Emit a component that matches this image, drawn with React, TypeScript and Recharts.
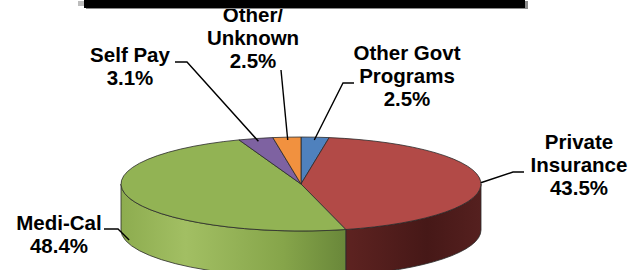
import React from 'react';
import { PieChart, Pie, Cell } from 'recharts';

// ---- data ----
const categories = ['Other Govt Programs', 'Private Insurance', 'Medi-Cal', 'Self Pay', 'Other/ Unknown'];
const shares = [2.5, 43.5, 48.4, 3.1, 2.5];
const labelText = [
  ['Other Govt', 'Programs'],
  ['Private', 'Insurance'],
  ['Medi-Cal'],
  ['Self Pay'],
  ['Other/', 'Unknown'],
];

// ---- styles ----
const topColors = ['#4f81bd', '#b24a47', '#92b354', '#7e62a1', '#f1913f'];
const sideStops: [number, string][][] = [
  [[0, '#2f5a8a'], [1, '#3b6aa0']],
  [[0, '#5e2321'], [0.62, '#5e2321'], [0.85, '#461817'], [1, '#55201f']],
  [[0, '#8dac4f'], [0.18, '#a2bf63'], [0.45, '#86a54a'], [0.62, '#6a883a'], [1, '#6a883a']],
  [[0, '#5a4478'], [1, '#5a4478']],
  [[0, '#c0702c'], [1, '#c0702c']],
];
// label layout: anchor radius factor, drop (px), leader path points, text centre x, first baseline y
const labelLayout = [
  { r: 0.94, drop: 0, path: [[343, 83], [354, 83]], tx: 407, ty: 60 },
  { r: 1.0, drop: 1, path: [[513, 172], [524, 172]], tx: 579, ty: 149 },
  { r: 1.0, drop: 42, path: [[118, 229], [104, 229]], tx: 59, ty: 230 },
  { r: 0.94, drop: 0, path: [[187, 62], [175, 62]], tx: 130, ty: 62 },
  { r: 0.94, drop: 0, path: [[281, 70]], tx: 253, ty: 22 },
];

const data = categories.map((name, i) => ({ name, value: shares[i] }));

const TILT = 0.261;
const DEPTH = 46;
const LINE_H = 23;
const FONT = '"Liberation Sans", Arial, sans-serif';

function ept(cx: number, cy: number, rx: number, ry: number, a: number): [number, number] {
  const r = (a * Math.PI) / 180;
  return [cx + rx * Math.cos(r), cy - ry * Math.sin(r)];
}

function SliceShape(props: any) {
  const { cx, cy, outerRadius, startAngle, endAngle, fill } = props;
  const name = props.name ?? props.payload?.name;
  const idx = Math.max(0, categories.indexOf(name));
  const rx = outerRadius;
  const ry = outerRadius * TILT;
  const s = Math.max(startAngle, endAngle);
  const e = Math.min(startAngle, endAngle);
  const p1 = ept(cx, cy, rx, ry, s);
  const p2 = ept(cx, cy, rx, ry, e);
  const large = s - e > 180 ? 1 : 0;
  const top = `M${cx},${cy} L${p1[0]},${p1[1]} A${rx},${ry} 0 ${large} 1 ${p2[0]},${p2[1]} Z`;

  // front side wall: portion of [e, s] within [-180, 0]
  let side: string | null = null;
  const a1 = Math.min(s, 0);
  const a2 = Math.max(e, -180);
  if (a1 > a2) {
    const q1 = ept(cx, cy, rx, ry, a1);
    const q2 = ept(cx, cy, rx, ry, a2);
    side =
      `M${q1[0]},${q1[1]} A${rx},${ry} 0 0 1 ${q2[0]},${q2[1]} ` +
      `L${q2[0]},${q2[1] + DEPTH} A${rx},${ry} 0 0 0 ${q1[0]},${q1[1] + DEPTH} Z`;
  }
  const gid = `side-grad-${idx}`;
  return (
    <g>
      <defs>
        <linearGradient id={gid} gradientUnits="userSpaceOnUse" x1={cx - rx} y1={0} x2={cx + rx} y2={0}>
          {sideStops[idx].map(([o, c], k) => (
            <stop key={k} offset={o} stopColor={c} />
          ))}
        </linearGradient>
      </defs>
      {side && <path d={side} fill={`url(#${gid})`} stroke="#2a2a2a" strokeWidth={0.8} strokeLinejoin="round" />}
      <path d={top} fill={fill} stroke="#2a2a2a" strokeWidth={0.8} strokeLinejoin="round" />
    </g>
  );
}

function renderLabel(p: any) {
  const { cx, cy, midAngle, outerRadius } = p;
  const name = p.name ?? p.payload?.name;
  const idx = p.index ?? categories.indexOf(name);
  const L = labelLayout[idx];
  const rx = outerRadius;
  const ry = outerRadius * TILT;
  const [ax, ay0] = ept(cx, cy, rx * L.r, ry * L.r, midAngle);
  const ay = ay0 + L.drop;
  const pts = [[ax, ay], ...L.path];
  const d = pts.map((pt, k) => `${k === 0 ? 'M' : 'L'}${pt[0]},${pt[1]}`).join(' ');
  const lines = [...labelText[idx], `${shares[idx].toFixed(1)}%`];
  return (
    <g key={`lbl-${idx}`}>
      <path d={d} fill="none" stroke="#000" strokeWidth={1.4} />
      <text
        x={L.tx}
        y={L.ty}
        textAnchor="middle"
        fontFamily={FONT}
        fontWeight="bold"
        fontSize={20.5}
        fill="#000"
      >
        {lines.map((t, k) => (
          <tspan key={k} x={L.tx} y={L.ty + k * LINE_H}>
            {t}
          </tspan>
        ))}
      </text>
    </g>
  );
}

export default function App() {
  return (
    <div style={{ position: 'absolute', left: 0, top: 0, width: 634, height: 270, background: '#fff', overflow: 'hidden' }}>
      <PieChart width={634} height={270} margin={{ top: 0, right: 0, bottom: 0, left: 0 }}>
        <Pie
          data={data}
          dataKey="value"
          nameKey="name"
          cx={301}
          cy={184}
          outerRadius={180}
          startAngle={90}
          endAngle={-270}
          isAnimationActive={false}
          shape={SliceShape}
          inactiveShape={SliceShape}
          activeShape={SliceShape}
          label={renderLabel}
          labelLine={false}
          stroke="none"
        >
          {data.map((d, i) => (
            <Cell key={d.name} fill={topColors[i]} />
          ))}
        </Pie>
      </PieChart>
      <div style={{ position: 'absolute', left: 78, top: 1, width: 8, height: 5, background: '#bdbdbd' }} />
      <div style={{ position: 'absolute', left: 86, top: 1, width: 442, height: 8, background: '#8a8a8a' }} />
      <div style={{ position: 'absolute', left: 84, top: 0, width: 441, height: 8, background: '#000' }} />
    </div>
  );
}
